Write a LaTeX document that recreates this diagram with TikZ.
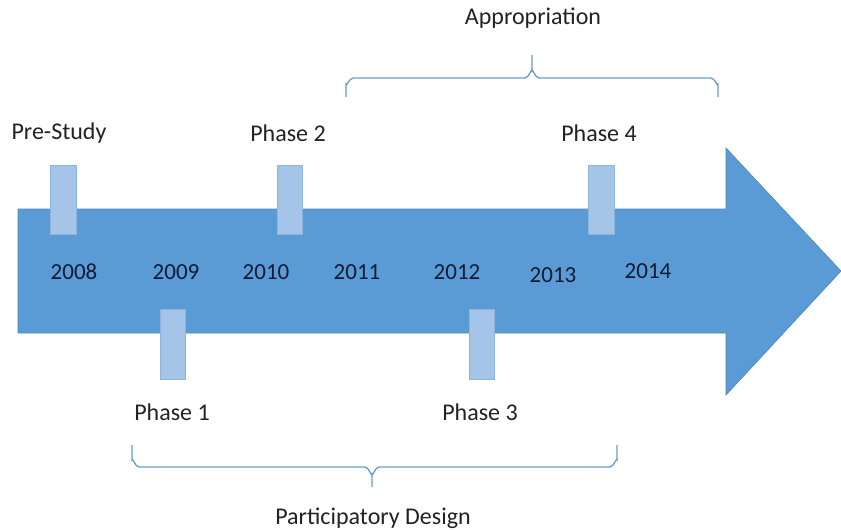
\documentclass[tikz,border=0pt]{standalone}
\usepackage{fontspec}
\setmainfont{Carlito}
\definecolor{arrowblue}{HTML}{5B9BD5}
\definecolor{arrowedge}{HTML}{4A86BF}
\definecolor{markfill}{HTML}{A4C4E8}
\definecolor{markedge}{HTML}{8DB3DF}
\definecolor{yeartext}{HTML}{111B33}
\definecolor{labeltext}{HTML}{222222}
\definecolor{bracecol}{HTML}{6A9BCB}
\begin{document}
\begin{tikzpicture}[x=1pt,y=-1pt,
  year/.style={text=yeartext,font=\fontsize{23}{25}\selectfont,inner sep=0pt},
  lab/.style={text=labeltext,font=\fontsize{24}{26}\selectfont,inner sep=0pt},
  marker/.style={fill=markfill,draw=markedge,line width=0.6pt}]
\useasboundingbox (0,0) rectangle (841,530);
% arrow
\fill[arrowblue,draw=arrowedge,line width=0.6pt]
  (18,209) -- (726,209) -- (726,148) -- (841,271) -- (726,395) -- (726,333) -- (18,333) -- cycle;
% markers
\draw[marker] (50,165) rectangle (76,234);
\draw[marker] (277,165) rectangle (302,234);
\draw[marker] (588,165) rectangle (614,234);
\draw[marker] (160,309) rectangle (185,379);
\draw[marker] (469,309) rectangle (494,379);
% years
\node[year] (y8) at (74,272) {2008};
\node[year] (y9) at (176,272) {2009};
\node[year] (y10) at (266,272) {2010};
\node[year] (y11) at (357,272) {2011};
\node[year] (y12) at (457,272) {2012};
\node[year] (y13) at (553,275) {2013};
\node[year] (y14) at (648,271) {2014};
% labels
\node[lab] (pre) at (59,133) {Pre-Study};
\node[lab] (p2) at (288,133) {Phase 2};
\node[lab] (p4) at (599,133) {Phase 4};
\node[lab] (p1) at (172,412) {Phase 1};
\node[lab] (p3) at (480,412) {Phase 3};
\node[lab] (appr) at (533,18) {Appropriation};
\node[lab] (pd) at (373,518) {Participatory Design};
% top brace
\draw[bracecol,line width=1.3pt]
  (346,97) -- (346,84) to[out=-90,in=180] (353,78) -- (525,78)
  to[out=0,in=90] (532,71) -- (532,55);
\draw[bracecol,line width=1.3pt]
  (532,71) to[out=90,in=180] (539,78) -- (711,78) to[out=0,in=-90] (718,84) -- (718,97);
% bottom brace
\draw[bracecol,line width=1.3pt]
  (132,445) -- (132,460) to[out=90,in=180] (139,467) -- (365,467)
  to[out=0,in=-90] (372,474) -- (372,487);
\draw[bracecol,line width=1.3pt]
  (372,474) to[out=-90,in=180] (379,467) -- (610,467) to[out=0,in=90] (617,460) -- (617,445);
\end{tikzpicture}
\end{document}
